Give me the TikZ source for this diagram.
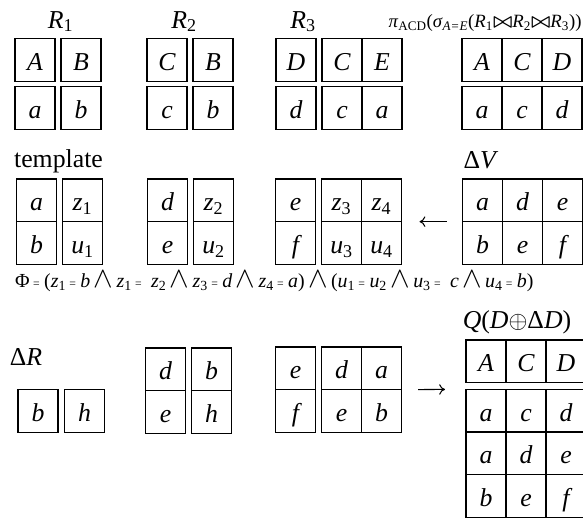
\documentclass[tikz,border=0pt]{standalone}
\usepackage{amsmath}
\usepackage{fontspec}
\setmainfont{Liberation Serif}
\usepackage{tikz}
\usetikzlibrary{arrows.meta, positioning}
\newcommand{\ix}[1]{\textsubscript{\upshape #1}}
\newcommand{\eqs}{\hspace{2.8pt}{\fontsize{10}{10}\selectfont=}\hspace{3.8pt}}
\newcommand{\lan}{\,\scalebox{1.45}{$\wedge$}\,}
\newcommand{\jn}{$\boldsymbol{\bowtie}$}

\begin{document}
\begin{tikzpicture}[
        x=0.03cm, y=-0.03cm,
        every node/.style={font=\fontsize{22}{24}\selectfont},
        cell/.style={rectangle, draw, line width=0.9pt, minimum width=1.2cm, minimum height=1.28cm, inner sep=0pt, outer sep=0pt, text height=18pt, text depth=0pt, font=\fontsize{22}{24}\selectfont\itshape},
        lbl/.style={anchor=base, inner sep=0pt},
        arrow/.style={->, >={To[length=5pt, width=9pt]}, line width=0.9pt}
    ]
    \useasboundingbox (0,0) rectangle (583,519);

    % Labels
    \node[lbl] (lR1) at (60.5,28) {\textit{R}\ix{1}};
    \node[lbl] (lR2) at (184,28) {\textit{R}\ix{2}};
    \node[lbl] (lR3) at (303,28) {\textit{R}\ix{3}};
    \node[lbl, font=\fontsize{16}{20}\selectfont] (lpi) at (485,27) {\textit{π}\ix{ACD}(\textit{σ}\ix{\itshape A=E}(\textit{R}\ix{1}\jn\textit{R}\ix{2}\jn\textit{R}\ix{3}))};
    \node[lbl] (ltpl) at (58.5,167) {template};
    \node[lbl] (ldV) at (481,168) {Δ\textit{V}};
    \node[lbl, anchor=base west, font=\fontsize{17}{18}\selectfont] (lphi) at (15,287) {Φ\eqs(\textit{z}\ix{1}\eqs\textit{b}\lan\textit{z}\ix{1}\eqs\ \textit{z}\ix{2}\lan\textit{z}\ix{3}\eqs\textit{d}\lan\textit{z}\ix{4}\eqs\textit{a})\lan(\textit{u}\ix{1}\eqs\textit{u}\ix{2}\lan\textit{u}\ix{3}\eqs\ \textit{c}\lan\textit{u}\ix{4}\eqs\textit{b})};
    \node[lbl] (ldR) at (26,365) {Δ\textit{R}};
    \node[lbl] (lQ) at (517,328) {\textit{Q}(\textit{D}$\oplus$Δ\textit{D})};

    % R1, R2, R3
    \node[cell] (r1A) at (35,60.3) {A};
    \node[cell, right=0.18cm of r1A] (r1B) {B};
    \node[cell, below=0.15cm of r1A] (r1a) {a};
    \node[cell, below=0.15cm of r1B] (r1b) {b};

    \node[cell] (r2C) at (167,60.3) {C};
    \node[cell, right=0.18cm of r2C] (r2B) {B};
    \node[cell, below=0.15cm of r2C] (r2c) {c};
    \node[cell, below=0.15cm of r2B] (r2b) {b};

    \node[cell] (r3D) at (296,60.3) {D};
    \node[cell, right=0.18cm of r3D] (r3C) {C};
    \node[cell, right=0pt of r3C] (r3E) {E};
    \node[cell, below=0.15cm of r3D] (r3d) {d};
    \node[cell, below=0.15cm of r3C] (r3c) {c};
    \node[cell, below=0.15cm of r3E] (r3a) {a};

    % View
    \node[cell] (pA) at (482,60.3) {A};
    \node[cell, right=0pt of pA] (pC) {C};
    \node[cell, right=0pt of pC] (pD) {D};
    \node[cell, below=0.15cm of pA] (pa) {a};
    \node[cell, below=0.15cm of pC] (pc) {c};
    \node[cell, below=0.15cm of pD] (pd) {d};

    % Template
    \node[cell] (ta) at (36.5,200.3) {a};
    \node[cell, below=0pt of ta] (tb) {b};
    \node[cell, right=0.18cm of ta] (tz1) {z\ix{1}};
    \node[cell, below=0pt of tz1] (tu1) {u\ix{1}};

    \node[cell] (td) at (167.5,200.3) {d};
    \node[cell, below=0pt of td] (te) {e};
    \node[cell, right=0.18cm of td] (tz2) {z\ix{2}};
    \node[cell, below=0pt of tz2] (tu2) {u\ix{2}};

    \node[cell] (t3e) at (295.5,200.3) {e};
    \node[cell, below=0pt of t3e] (t3f) {f};
    \node[cell, right=0.18cm of t3e] (tz3) {z\ix{3}};
    \node[cell, right=0pt of tz3] (tz4) {z\ix{4}};
    \node[cell, below=0pt of tz3] (tu3) {u\ix{3}};
    \node[cell, below=0pt of tz4] (tu4) {u\ix{4}};

    % Delta V
    \node[cell] (va) at (482.5,200.3) {a};
    \node[cell, right=0pt of va] (vd) {d};
    \node[cell, right=0pt of vd] (ve) {e};
    \node[cell, below=0pt of va] (vb) {b};
    \node[cell, right=0pt of vb] (ve2) {e};
    \node[cell, right=0pt of ve2] (vf) {f};

    % Delta R
    \node[cell] (db) at (38,411) {b};
    \node[cell, right=0.2cm of db] (dh) {h};

    \node[cell] (rd) at (165.5,369.3) {d};
    \node[cell, below=0pt of rd] (re) {e};
    \node[cell, right=0.18cm of rd] (rb) {b};
    \node[cell, below=0pt of rb] (rh) {h};

    \node[cell] (se) at (295.5,368.3) {e};
    \node[cell, below=0pt of se] (sf) {f};
    \node[cell, right=0.18cm of se] (sd) {d};
    \node[cell, right=0pt of sd] (sa) {a};
    \node[cell, below=0pt of sd] (se2) {e};
    \node[cell, below=0pt of sa] (sb) {b};

    % Q(D + Delta D)
    \node[cell] (qA) at (486,361.3) {A};
    \node[cell, right=0pt of qA] (qC) {C};
    \node[cell, right=0pt of qC] (qD) {D};
    \node[cell, below=0.2cm of qA] (q1a) {a};
    \node[cell, right=0pt of q1a] (q1c) {c};
    \node[cell, right=0pt of q1c] (q1d) {d};
    \node[cell, below=0pt of q1a] (q2a) {a};
    \node[cell, right=0pt of q2a] (q2d) {d};
    \node[cell, right=0pt of q2d] (q2e) {e};
    \node[cell, below=0pt of q2a] (q3b) {b};
    \node[cell, right=0pt of q3b] (q3e) {e};
    \node[cell, right=0pt of q3e] (q3f) {f};

    % Arrows
    \draw[arrow, shorten <=0.48cm, shorten >=0.54cm] (va.south west) -- (tz4.south east);
    \draw[arrow, shorten <=0.5cm, shorten >=0.63cm] (sa.south east) -- (q1a.north west);

\end{tikzpicture}
\end{document}
